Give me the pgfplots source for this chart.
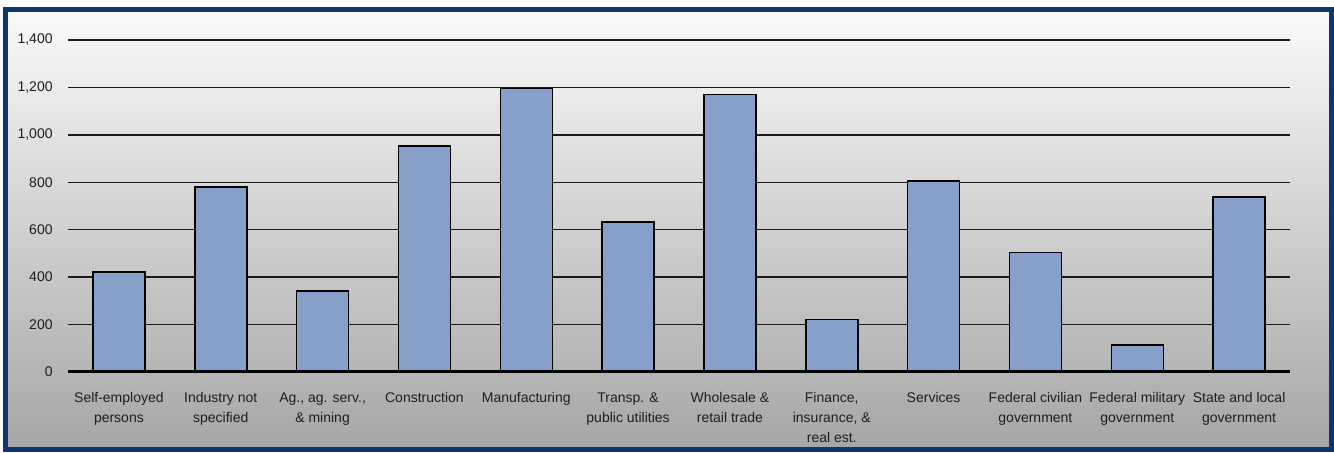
\documentclass[border=0pt]{standalone}
\usepackage{fontspec}
\setmainfont{Liberation Sans}
\usepackage{pgfplots}
\pgfplotsset{compat=1.18}
\definecolor{framebl}{RGB}{14,56,107}
\definecolor{barbl}{RGB}{134,160,201}
\definecolor{txt}{RGB}{30,30,30}
\begin{document}
\begin{tikzpicture}
\path[use as bounding box, fill=white] (0,0) rectangle (667pt,226pt);
\shade[top color=white!98!black, bottom color=black!35] (2.75pt,1.25pt) rectangle (666pt,221.25pt);
\draw[framebl, line width=2.6pt] (2.75pt,1.25pt) rectangle (666pt,221.25pt);
\begin{axis}[
  at={(34pt,40pt)}, anchor=south west,
  scale only axis, width=611pt, height=166pt,
  xmin=-0.5, xmax=11.5, ymin=0, ymax=1400,
  ytick={0,200,...,1400},
  xtick={0,...,11},
  xticklabels={{Self-employed\\persons},{Industry not\\specified},{Ag., ag. serv.,\\\& mining},{Construction},{Manufacturing},{Transp. \&\\public utilities},{Wholesale \&\\retail trade},{Finance,\\insurance, \&\\real est.},{Services},{Federal civilian\\government},{Federal military\\government},{State and local\\government}},
  major tick length=0pt,
  axis line style={draw=none},
  ymajorgrids, grid style={black!90, line width=0.7pt},
  /pgf/number format/.cd, 1000 sep={,}, assume math mode=true,
  /pgfplots/.cd,
  yticklabel style={font=\fontsize{7}{8}\selectfont, text=txt, anchor=east, inner sep=0pt, xshift=-7.5pt},
  xticklabel style={font=\fontsize{7}{10}\selectfont, text=txt, align=center, anchor=north, inner sep=0pt, yshift=-10pt},
  ybar, bar width=26pt,
]
\addplot[fill=barbl, draw=black, line width=0.75pt] coordinates {
(0,422) (1,780) (2,342) (3,953) (4,1196) (5,633) (6,1171) (7,222) (8,805) (9,503) (10,114) (11,739)};
\draw[black, line width=1.6pt] (axis cs:-0.5,0) -- (axis cs:11.5,0);
\end{axis}
\end{tikzpicture}
\end{document}
